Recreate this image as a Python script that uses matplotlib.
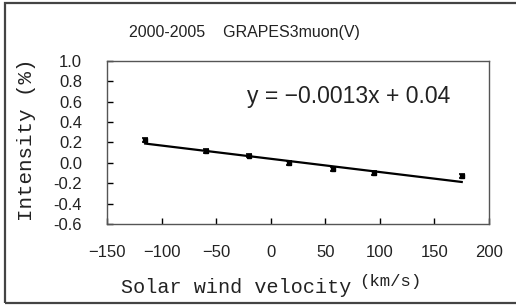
import matplotlib
matplotlib.use('Agg')
import matplotlib.pyplot as plt
from matplotlib.patches import Rectangle
import numpy as np

# data
velocity = [-115, -59, -20, 17, 57, 95, 175]
intensity = [0.22, 0.12, 0.07, 0.00, -0.06, -0.095, -0.13]
err = [0.02, 0.02, 0.015, 0.02, 0.02, 0.02, 0.02]
slope = -0.0013
intercept = 0.04

xticks = [-150, -100, -50, 0, 50, 100, 150, 200]
xtick_labels = ['\u2212150', '\u2212100', '\u221250', '0', '50', '100', '150', '200']
yticks = [1.0, 0.8, 0.6, 0.4, 0.2, 0.0, -0.2, -0.4, -0.6]
ytick_labels = ['1.0', '0.8', '0.6', '0.4', '0.2', '0.0', '-0.2', '-0.4', '-0.6']

fig = plt.figure(figsize=(5.16, 3.05), dpi=100)
ax = fig.add_axes([0.2074, 0.2656, 0.7403, 0.5344])

# outer frame of the picture
fig.patches.append(Rectangle((0.010, 0.007), 1.2, 0.983, transform=fig.transFigure,
                             fill=False, edgecolor='#444444', linewidth=1.6))

fit_x = np.array([min(velocity), max(velocity)])
ax.plot(fit_x, slope * fit_x + intercept, color='black', linewidth=1.6, zorder=2)
ax.errorbar(velocity, intensity, yerr=err, fmt='s', color='black', markersize=3.5,
            capsize=2.5, elinewidth=1.2, capthick=1.2, zorder=3)

ax.set_xlim(-150, 200)
ax.set_ylim(-0.6, 1.0)
ax.set_xticks(xticks)
ax.set_xticklabels(xtick_labels, fontfamily='Liberation Sans', fontsize=12, color='#222222')
ax.set_yticks(yticks)
ax.set_yticklabels(ytick_labels, fontfamily='Liberation Sans', fontsize=12, color='#222222')
ax.tick_params(axis='x', direction='in', length=4, pad=15, width=1)
ax.tick_params(axis='y', direction='in', length=4, pad=18, width=1)
for s in ax.spines.values():
    s.set_color('#555555')
    s.set_linewidth(1)

ax.text(0.633, 0.781, 'y = \u22120.0013x + 0.04', transform=ax.transAxes, ha='center',
        va='center', fontfamily='Liberation Sans', fontsize=16.5, color='#222222')

fig.text(0.473, 0.892, '2000-2005    GRAPES3muon(V)', ha='center', va='center',
         fontfamily='Liberation Sans', fontsize=11.5, color='#222222')
fig.text(0.457, 0.059, 'Solar wind velocity', ha='center', va='center',
         fontfamily='Liberation Mono', fontsize=14.5, color='#222222')
fig.text(0.756, 0.077, '(km/s)', ha='center', va='center',
         fontfamily='Liberation Mono', fontsize=12.5, color='#222222')
fig.text(0.052, 0.541, 'Intensity (%)', ha='center', va='center', rotation=90,
         fontfamily='Liberation Mono', fontsize=15, color='#222222')

fig.savefig('out.png', dpi=100)
